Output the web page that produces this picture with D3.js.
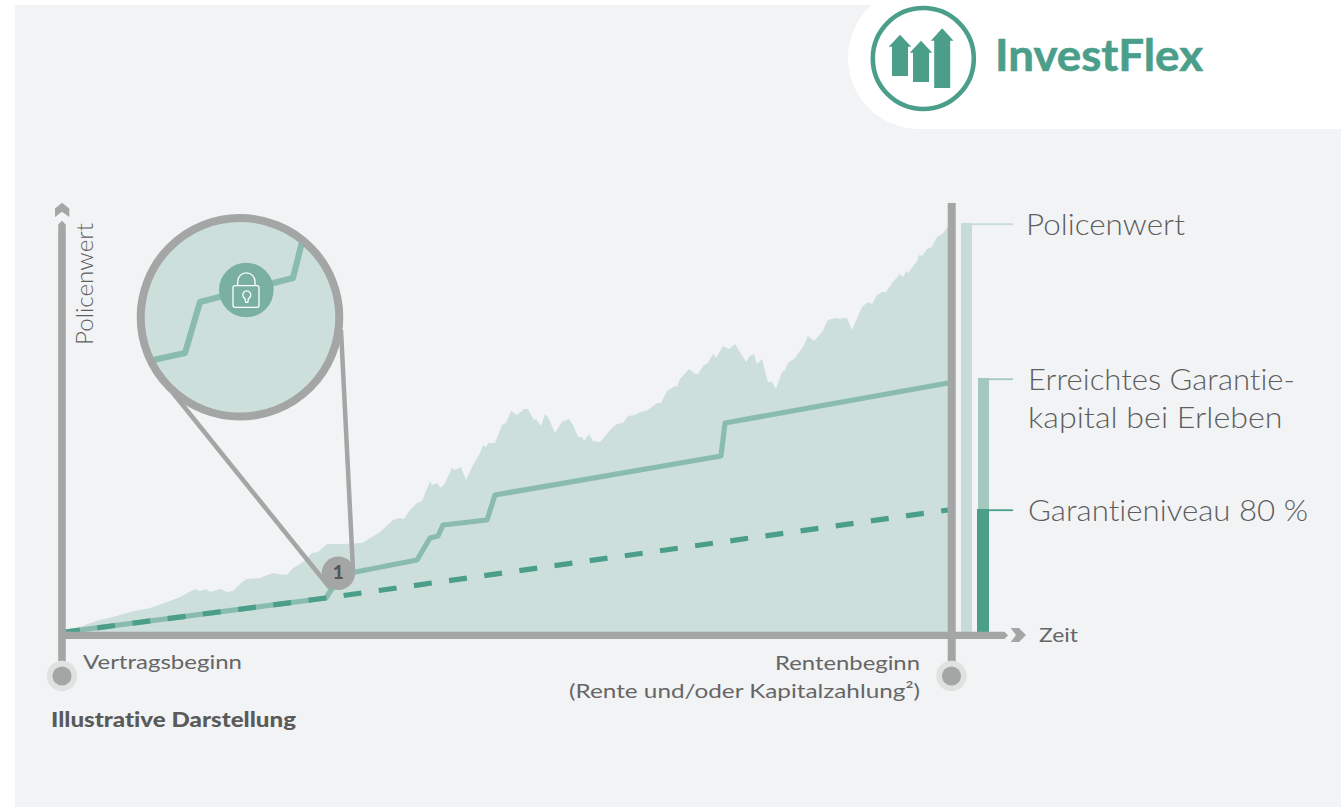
<!DOCTYPE html>
<html lang="de">
<head>
<meta charset="utf-8">
<script src="https://cdn.jsdelivr.net/npm/d3@7"></script>
<style>
html,body{margin:0;padding:0;background:#fff;overflow:hidden}
svg{display:block}
text{font-family:Lato,"Open Sans",sans-serif;fill:#666;font-variant-ligatures:none}
</style>
</head>
<body>
<svg id="chart" width="1341" height="807"></svg>
<script>
const policyTime=[2,35,48,65,85,105,115,130,135,141,145,155,162,168,177,182,195,202,208,212,222,228,238,247,253,262,277,297,315,328,335,339,345,352,357,365,367,372,376,380,387,390,396,401,407,415,418,421,423,430,437,441,446,452,459,463,469,471,476,480,483,490,497,504,508,513,517,519,524,528,535,547,552,558,563,570,573,583,592,596,602,610,612,615,624,630,633,638,643,648,651,658,664,670,673,681,685,689,692,697,703,707,711,717,720,723,730,738,743,749,757,763,770,775,778,782,787,790,797,803,807,812,817,821,828,835,838,841,843,852,854,857,862,867,872,877,882,885];
const policyValue=[1,12,15,20,24,31,35,43,41,43,40,43,40,41,50,53,54,57,59,58,57,64,70,79,80,88,88,89,100,112,114,113,122,129,131,151,147,149,144,149,164,162,165,152,165,179,187,185,189,189,207,209,221,217,223,223,212,213,206,218,215,199,210,213,207,195,195,191,198,191,190,204,208,209,216,217,219,222,229,229,241,246,245,253,263,258,258,266,269,278,274,286,283,288,283,270,276,278,268,273,250,250,243,260,262,269,274,285,296,291,300,312,314,313,314,314,302,309,325,330,328,337,340,340,350,358,355,361,359,371,377,376,383,385,395,398,404,408];
const attainedTime=[0,261,268,275,352,365,373,378,422,430,656,660,883];
const attainedValue=[0,34,45,57,72,94,96,107,112,137,176,209,249];
const floorTime=[0,261,883];
const floorValue=[0,34,122];
const detailTime=[75,120,135,228,240];
const detailValue=[269,279,330,354,402];
const legendLabels=["Policenwert","Garantieniveau 80 %"];
const attainedLabel=["Erreichtes Garantie-","kapital bei Erleben"];
const legendTop=[409,254,123];
const yLabel="Policenwert", xLabel="Zeit", startLabel="Vertragsbeginn";
const endLabel=["Rentenbeginn","(Rente und/oder Kapitalzahlung²)"];
const note="Illustrative Darstellung", product="InvestFlex", marker="1";

const C={bg:"#f2f3f5",area:"#cddfdb",line:"#8abcae",dash:"#4b9f8a",axis:"#a3a6a5",halo:"#e0e2e2",lock:"#79b0a0",mid:"#a5c8be",light:"#c7dcd6"};
const svg=d3.select("#chart");
const x=d3.scaleLinear().domain([0,885]).range([65,950]);
const y=d3.scaleLinear().domain([0,408]).range([632,224]);
const zip=(a,b)=>a.map((t,i)=>[t,b[i]]);
const lineGen=d3.line().x(d=>x(d[0])).y(d=>y(d[1]));

svg.append("rect").attr("x",15).attr("y",5).attr("width",1326).attr("height",802).attr("fill",C.bg);
svg.append("rect").attr("x",848).attr("y",-13).attr("width",600).attr("height",142).attr("rx",71).attr("fill","#fff");

/* logo */
const logo=svg.append("g");
logo.append("circle").attr("cx",923.3).attr("cy",58.5).attr("r",50.5).attr("fill","none").attr("stroke",C.dash).attr("stroke-width",4.6);
[[900,34.7,46.7,76],[921,40.7,52.7,82],[942.2,28.3,40.7,88]].forEach(([c,t,h,b])=>{
  logo.append("path").attr("fill",C.dash).attr("d",`M${c},${t}L${c+11.3},${h}H${c+8}V${b}H${c-8}V${h}H${c-11.3}Z`);
});
logo.append("text").attr("x",995).attr("y",70.7).attr("font-size",43).attr("font-weight",700)
  .attr("textLength",208).attr("lengthAdjust","spacingAndGlyphs").style("fill",C.dash).style("stroke",C.dash).style("stroke-width",0.6).text(product);

/* plot */
svg.append("path").datum(zip(policyTime,policyValue))
  .attr("fill",C.area)
  .attr("d",d3.area().x(d=>x(d[0])).y0(y(0)).y1(d=>y(d[1])));
svg.append("path").datum(zip(attainedTime,attainedValue)).attr("fill","none").attr("stroke",C.line).attr("stroke-width",5.2).attr("stroke-linejoin","round").attr("d",lineGen);
svg.append("path").datum(zip(floorTime,floorValue)).attr("fill","none").attr("stroke",C.dash).attr("stroke-width",5.2).attr("stroke-dasharray","18 17.5").attr("stroke-dashoffset",3).attr("d",lineGen);

/* legend bars */
const barX=[961,978,977], barW=[11,11,12], barC=[C.light,C.mid,C.dash];
[0,1,2].forEach(i=>{
  svg.append("rect").attr("x",barX[i]).attr("width",barW[i]).attr("y",y(legendTop[i])).attr("height",y(0)-y(legendTop[i])).attr("fill",barC[i]);
  svg.append("rect").attr("x",barX[i]+barW[i]-1).attr("width",1013-barX[i]-barW[i]+1).attr("y",y(legendTop[i])+0.3).attr("height",1.8).attr("fill",barC[i]);
});

/* axes */
const axis=svg.append("g").attr("fill",C.axis);
axis.append("path").attr("d","M58.2,676V224.5L62,220.7L65.8,224.5V676Z");
axis.append("path").attr("d","M55,217V208.5L62,202.7L69.3,208.5V217L62,211.7Z");
axis.append("path").attr("d","M62,631.7H1004.5L1008,635.3L1004.5,639H62Z");
axis.append("path").attr("d","M1010.7,628H1019L1026,635L1019,642H1010.7L1016,635Z");
axis.append("rect").attr("x",947.7).attr("y",203).attr("width",8).attr("height",473);
[62,951.5].forEach(cx=>{
  svg.append("circle").attr("cx",cx).attr("cy",676).attr("r",15.2).attr("fill",C.halo);
  svg.append("circle").attr("cx",cx).attr("cy",676).attr("r",9.6).attr("fill",C.axis);
});

/* magnifier */
const lens=svg.append("g");
lens.append("line").attr("x1",173).attr("y1",393).attr("x2",330).attr("y2",588).attr("stroke",C.axis).attr("stroke-width",4.5);
lens.append("line").attr("x1",341).attr("y1",330).attr("x2",353).attr("y2",570).attr("stroke",C.axis).attr("stroke-width",4.5);
svg.append("clipPath").attr("id","lensClip").append("circle").attr("cx",240).attr("cy",317.3).attr("r",99.3);
lens.append("circle").attr("cx",240).attr("cy",317.3).attr("r",99.3).attr("fill",C.area);
lens.append("path").datum(zip(detailTime,detailValue)).attr("clip-path","url(#lensClip)").attr("fill","none").attr("stroke",C.line).attr("stroke-width",6.2).attr("stroke-linejoin","round").attr("d",lineGen);
lens.append("circle").attr("cx",240).attr("cy",317.3).attr("r",99.3).attr("fill","none").attr("stroke",C.axis).attr("stroke-width",8);
lens.append("circle").attr("cx",246.3).attr("cy",290).attr("r",27.3).attr("fill",C.lock);
const lock=lens.append("g").attr("fill","none").attr("stroke","#fff").attr("stroke-width",1.3);
lock.append("rect").attr("x",233).attr("y",285.7).attr("width",26).attr("height",21.6).attr("rx",2);
lock.append("path").attr("d","M237.7,285.7V281.5A8.6,8.6 0 0 1 255,281.5V285.7");
lock.append("path").attr("d","M245,298.5A4,4 0 1 1 248.5,298.5L247.8,302.3H245.7Z");

/* badge */
svg.append("circle").attr("cx",338.3).attr("cy",573.3).attr("r",16.7).attr("fill",C.axis);
svg.append("text").attr("x",338.3).attr("y",579.4).attr("text-anchor","middle").attr("font-size",19).attr("font-weight",900).style("fill","#555").text(marker);

/* text */
function label(t,xp,yp,size,len,opts={}){
  const e=svg.append("text").attr("x",xp).attr("y",yp).attr("font-size",size).text(t);
  if(opts.weight)e.attr("font-weight",opts.weight);
  if(opts.fill)e.style("fill",opts.fill);
  if(len)e.attr("textLength",len).attr("lengthAdjust","spacingAndGlyphs");
  if(opts.rot)e.attr("transform",`rotate(-90 ${xp} ${yp})`);
  return e;
}
const soft="#5e5e5e";
label(yLabel,92.5,345,23,122,{rot:true,weight:300,fill:soft});
label(startLabel,83,669.3,20,159);
label(note,51,727.3,21,245,{weight:900,fill:"#5a5a5a"});
label(endLabel[0],775,670,20,145);
label(endLabel[1],569,698,20,351);
label(xLabel,1039,641.7,20,39);
label(legendLabels[0],1026,235,29,159,{weight:300,fill:soft});
label(attainedLabel[0],1028,390,29,267,{weight:300,fill:soft});
label(attainedLabel[1],1028,427.7,29,254.5,{weight:300,fill:soft});
label(legendLabels[1],1028,520.7,29,280,{weight:300,fill:soft});
</script>
</body>
</html>
